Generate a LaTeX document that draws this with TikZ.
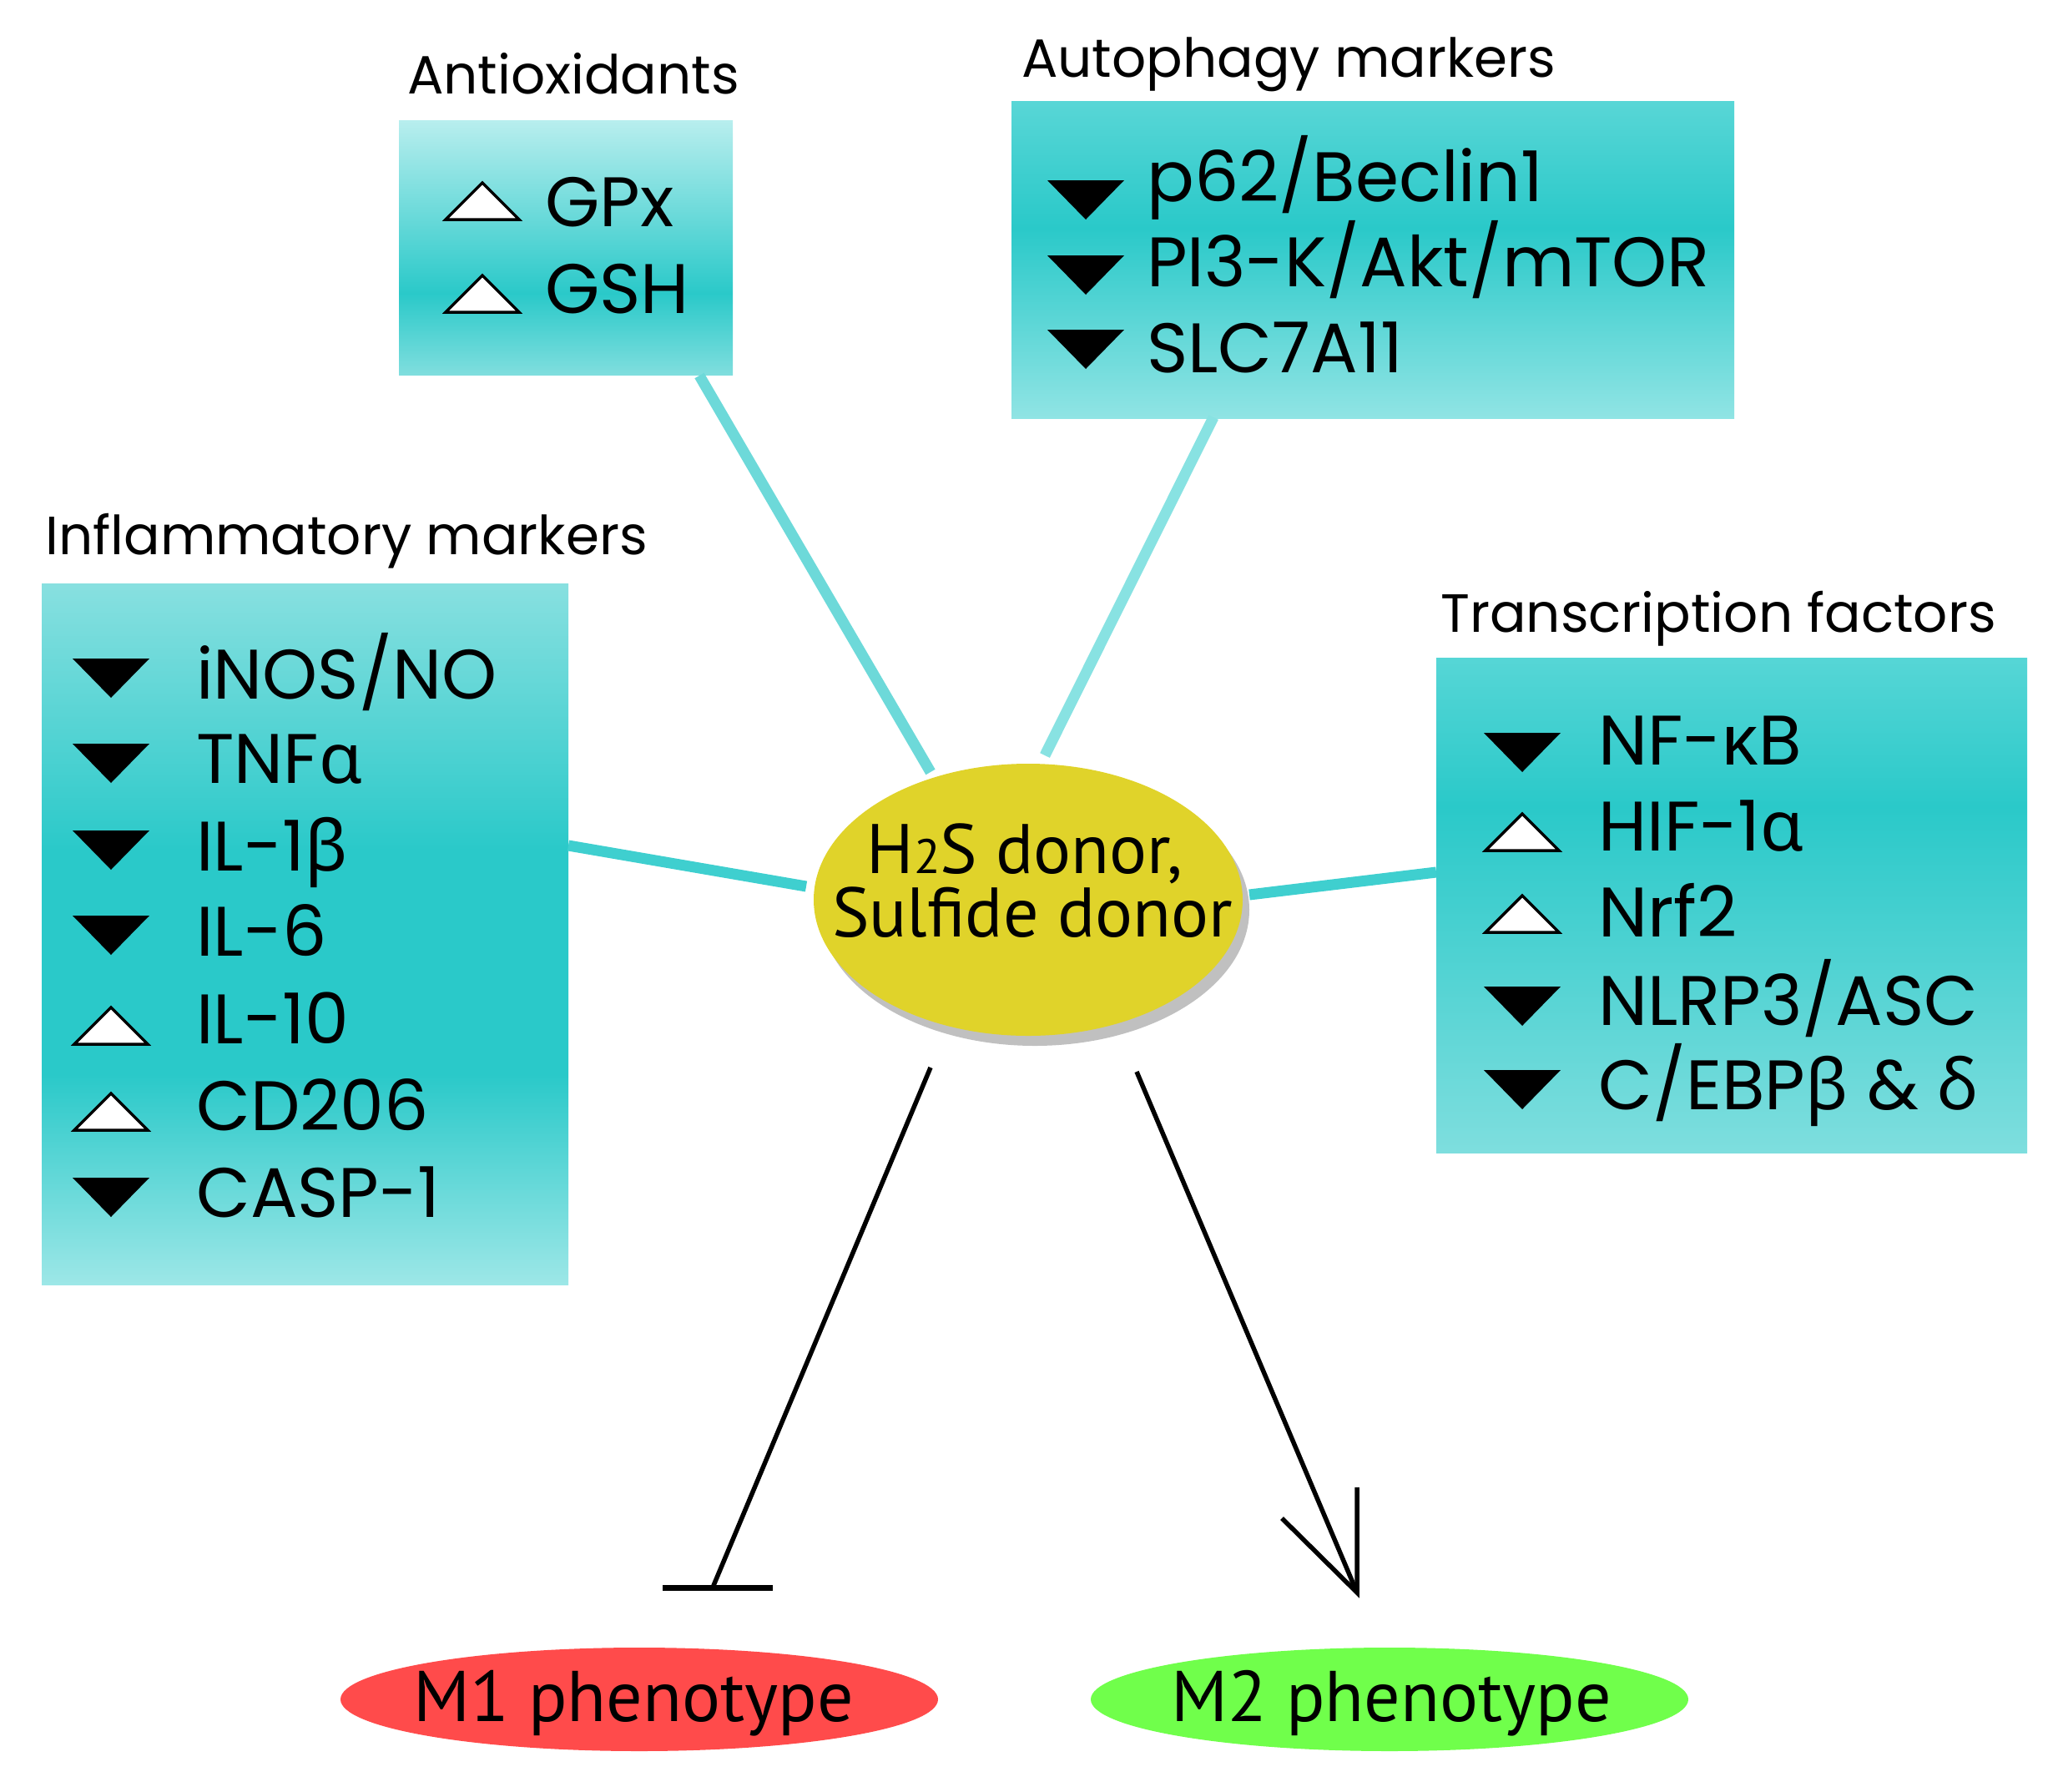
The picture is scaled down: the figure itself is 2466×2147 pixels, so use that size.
\documentclass[tikz,border=0pt]{standalone}
\usepackage{fontspec}
\setmainfont{Poppins}
\newfontfamily\grk{Noto Sans}
\newfontfamily\ptsans{PT Sans}
\usetikzlibrary{shapes.geometric}
\definecolor{tealD}{HTML}{2AC9C9}
\definecolor{antT}{HTML}{B8EEEE}
\definecolor{antB}{HTML}{80DEDE}
\definecolor{autT}{HTML}{58D6D6}
\definecolor{autB}{HTML}{90E4E4}
\definecolor{infT}{HTML}{88E0E0}
\definecolor{infB}{HTML}{9DE7E7}
\definecolor{trT}{HTML}{56D6D6}
\definecolor{trB}{HTML}{7EDEDE}
\definecolor{lineA}{HTML}{6DD9D9}
\definecolor{lineB}{HTML}{88E2E2}
\definecolor{lineC}{HTML}{3FCFCF}
\definecolor{donor}{HTML}{E0D32A}
\definecolor{shadowgray}{HTML}{C0C0C0}
\definecolor{mone}{HTML}{FF4B4B}
\definecolor{mtwo}{HTML}{70FF4B}
\pgfdeclareverticalshading{antshade}{100bp}{color(0bp)=(antB); color(25bp)=(antB); color(41bp)=(tealD); color(75bp)=(antT); color(100bp)=(antT)}
\pgfdeclareverticalshading{autshade}{100bp}{color(0bp)=(autB); color(25bp)=(autB); color(55bp)=(tealD); color(75bp)=(autT); color(100bp)=(autT)}
\pgfdeclareverticalshading{infshade}{100bp}{color(0bp)=(infB); color(25bp)=(infB); color(40bp)=(tealD); color(56bp)=(tealD); color(75bp)=(infT); color(100bp)=(infT)}
\pgfdeclareverticalshading{trshade}{100bp}{color(0bp)=(trB); color(25bp)=(trB); color(60bp)=(tealD); color(75bp)=(trT); color(100bp)=(trT)}
\tikzset{
  panel/.style={rectangle, draw=none, inner sep=0, anchor=north west},
  item/.style={inner sep=0, anchor=base west, font=\fontsize{84}{84}\selectfont},
  ttl/.style={inner sep=0, anchor=base west, font=\fontsize{64.5}{64.5}\selectfont},
  ctext/.style={inner sep=0, anchor=base, font=\ptsans\fontsize{84}{84}\selectfont},
  tealline/.style={line width=13, line cap=butt},
  blackline/.style={line width=5.5, black},
  pheno/.style={ellipse, draw=none, inner sep=0, minimum width=716, minimum height=124},
  phenotext/.style={inner sep=0, anchor=base, font=\ptsans\fontsize{86}{86}\selectfont},
}
\newcommand\tdn[2]{\fill[black] ({#1-46},{#2-47}) -- ({#1+46},{#2-47}) -- (#1,#2) -- cycle;}
\newcommand\tup[2]{\filldraw[fill=white, draw=black, line width=3.5, line join=miter] ({#1-44},{#2-1}) -- ({#1+44},{#2-1}) -- (#1,{#2-45}) -- cycle;}
\begin{document}
\begin{tikzpicture}[x=1pt, y=-1pt]
\useasboundingbox (0,0) rectangle (2466,2147);
% panels
\node[panel, shading=antshade, minimum width=400, minimum height=305] (ant) at (478,144) {};
\node[panel, shading=autshade, minimum width=866, minimum height=380] (aut) at (1212,121) {};
\node[panel, shading=infshade, minimum width=631, minimum height=840] (inf) at (50,699) {};
\node[panel, shading=trshade, minimum width=708, minimum height=593] (tr) at (1721,788) {};
% titles
\node[ttl] (antt) at (488,112) {Antioxidants};
\node[ttl] (autt) at (1224,92) {Autophagy markers};
\node[ttl] (inft) at (54,664) {Inflammatory markers};
\node[ttl] (trt) at (1726,757) {Transcription factors};
% antioxidants
\tup{578}{264}
\node[item] (gpx) at (653,271) {GPx};
\tup{578}{375}
\node[item] (gsh) at (653,375) {GSH};
% autophagy
\tdn{1301}{263}
\node[item] (p62) at (1374,241) {p62/Beclin1};
\tdn{1301}{353}
\node[item] (pi3) at (1374,343) {PI3-K/Akt/mTOR};
\tdn{1301}{442}
\node[item] (slc) at (1374,446) {SLC7A11};
% inflammatory
\tdn{133}{836}
\node[item] (inos) at (235,837) {iNOS/NO};
\tdn{133}{938}
\node[item] (tnf) at (235,938) {TNF{\grk α}};
\tdn{133}{1042}
\node[item] (il1) at (235,1043) {IL-1{\grk β}};
\tdn{133}{1144}
\node[item] (il6) at (235,1145) {IL-6};
\tup{133}{1252}
\node[item] (il10) at (235,1250) {IL-10};
\tup{133}{1355}
\node[item] (cd) at (235,1354) {CD206};
\tdn{133}{1458}
\node[item] (casp) at (235,1458) {CASP-1};
% transcription
\tdn{1824}{925}
\node[item] (nfkb) at (1915,916) {NF-{\grk κ}B};
\tup{1824}{1020}
\node[item] (hif) at (1915,1019) {HIF-1{\grk α}};
\tup{1824}{1118}
\node[item] (nrf) at (1915,1122) {Nrf2};
\tdn{1824}{1229}
\node[item] (nlrp) at (1915,1228) {NLRP3/ASC};
\tdn{1824}{1329}
\node[item] (cebp) at (1915,1329) {C/EBP{\grk β} \& {\grk δ}};
% center
\fill[shadowgray] (1240,1090) ellipse [x radius=257, y radius=163];
\node[ellipse, fill=donor, minimum width=514, minimum height=326, inner sep=0] (h2s) at (1232,1078) {};
\node[ctext] (l1) at (1228,1046) {H{\fontsize{58}{58}\selectfont 2}S donor,};
\node[ctext] (l2) at (1237,1122) {Sulfide donor};
% connector ends
\coordinate (antE) at (838,450);
\coordinate (antH) at (1115,925);
\coordinate (autE) at (1454,500);
\coordinate (autH) at (1252,905);
\coordinate (infE) at (681,1013);
\coordinate (infH) at (966,1062);
\coordinate (trE) at (1721,1045);
\coordinate (trH) at (1497,1072);
\draw[tealline, lineA] (antE) -- (antH);
\draw[tealline, lineB] (autE) -- (autH);
\draw[tealline, lineC] (infE) -- (infH);
\draw[tealline, lineC] (trE) -- (trH);
% outcomes
\node[pheno, fill=mone] (m1) at (766,2036) {};
\node[phenotext] (m1t) at (759,2062) {M1 phenotype};
\node[pheno, fill=mtwo] (m2) at (1665,2036) {};
\node[phenotext] (m2t) at (1667,2062) {M2 phenotype};
\coordinate (inhS) at (1115,1279);
\coordinate (inhE) at (854,1902);
\coordinate (barL) at (794,1902);
\coordinate (barR) at (926,1902);
\draw[blackline] (inhS) -- (inhE);
\draw[black, line width=7] (barL) -- (barR);
\coordinate (arS) at (1362,1284);
\coordinate (arE) at (1626,1908);
\coordinate (arV) at (1626,1782);
\coordinate (arB) at (1536,1819);
\draw[blackline] (arS) -- (arE);
\draw[blackline, line join=miter] (arV) -- (arE) -- (arB);
\end{tikzpicture}
\end{document}
